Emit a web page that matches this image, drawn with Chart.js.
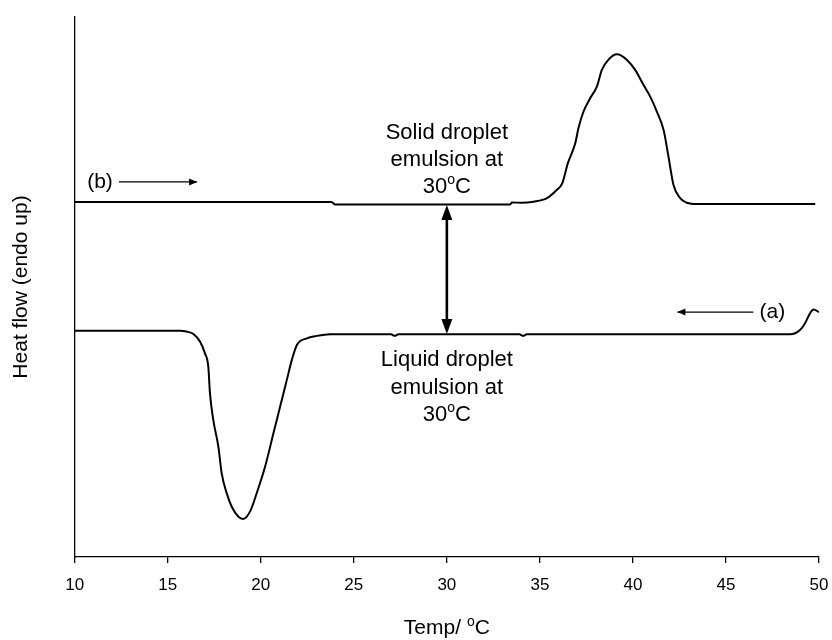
<!DOCTYPE html>
<html>
<head>
<meta charset="utf-8">
<script src="https://cdn.jsdelivr.net/npm/chart.js@4"></script>
<style>
  body { margin: 0; background: #fff; }
  #wrap { width: 832px; height: 640px; }
</style>
</head>
<body>
<div id="wrap"><canvas id="dsc"></canvas></div>
<script>
'use strict';

//***********Data***********
// (b) heating scan of the solid droplet emulsion
let tempB = [10, 23.8, 24.0, 33.4, 33.5, 34.0, 34.66, 35.38, 35.9, 36.2, 36.5, 36.9, 37.07, 37.34, 37.7,
  38.06, 38.33, 38.7, 39.14, 39.68, 40.12, 40.57, 40.93, 41.29, 41.65, 41.91, 42.18, 42.54, 42.9, 43.44, 49.8];
let flowB = [13.15, 13.15, 13.06, 13.06, 13.13, 13.12, 13.16, 13.29, 13.59, 13.84, 14.58, 15.32, 15.88, 16.49, 16.99,
  17.42, 18.04, 18.43, 18.62, 18.41, 18.04, 17.48, 17.05, 16.49, 15.81, 14.83, 13.78, 13.29, 13.12, 13.07, 13.07];

// (a) cooling scan of the liquid droplet emulsion
let tempA = [10, 15.66, 16.0, 16.38, 16.74, 17.0, 17.18, 17.27, 17.45, 17.72, 17.9, 18.17, 18.44, 18.8, 19.06,
  19.42, 19.78, 20.23, 20.68, 21.04, 21.4, 21.67, 21.94, 22.47, 23.01, 23.73, 27.0, 27.2, 27.4, 33.9, 34.1, 34.3,
  48.45, 48.98, 49.25, 49.52, 49.7, 50.0];
let flowA = [8.38, 8.38, 8.35, 8.26, 7.97, 7.54, 7.05, 6.06, 5.07, 4.09, 3.1, 2.36, 1.86, 1.49, 1.41,
  1.68, 2.36, 3.34, 4.58, 5.57, 6.56, 7.3, 7.85, 8.1, 8.19, 8.25, 8.25, 8.19, 8.25, 8.25, 8.19, 8.25,
  8.25, 8.41, 8.66, 9.03, 9.17, 9.07];

let xTicks = [10, 15, 20, 25, 30, 35, 40, 45, 50];

//***********Helpers***********
const FONT = '"Liberation Sans", Arial, sans-serif';

function toPoints(xs, ys) {
  let pts = [];
  for (let i = 0; i < xs.length; i++) {
    pts.push({ x: xs[i], y: ys[i] });
  }
  return pts;
}

// draws a line of text where parts flagged true are raised superscripts
function drawSup(ctx, parts, cx, cy, size) {
  let small = Math.round(size * 0.65);
  let widths = parts.map(p => {
    ctx.font = `${p[1] ? small : size}px ${FONT}`;
    return ctx.measureText(p[0]).width;
  });
  let total = widths.reduce((a, b) => a + b, 0);
  let x = cx - total / 2;
  ctx.textAlign = 'left';
  ctx.textBaseline = 'middle';
  parts.forEach((p, i) => {
    ctx.font = `${p[1] ? small : size}px ${FONT}`;
    ctx.fillText(p[0], x, p[1] ? cy - size * 0.3 : cy);
    x += widths[i];
  });
}

function arrowHead(ctx, x, y, dir, len, half) {
  // dir: unit vector the tip points along
  ctx.beginPath();
  ctx.moveTo(x, y);
  ctx.lineTo(x - dir[0] * len - dir[1] * half, y - dir[1] * len + dir[0] * half);
  ctx.lineTo(x - dir[0] * len + dir[1] * half, y - dir[1] * len - dir[0] * half);
  ctx.closePath();
  ctx.fill();
}

//***********Annotations***********
let runLabels = [
  { text: '(b)', x: 11.36, y: 13.89, from: 12.38, to: 16.58 },
  { text: '(a)', x: 47.49, y: 9.07, from: 46.47, to: 42.39 }
];
let blockLabels = [
  { x: 30, y: [15.7, 14.7, 13.7], lines: [[['Solid droplet', false]], [['emulsion at', false]], [['30', false], ['o', true], ['C', false]]] },
  { x: 30, y: [7.3, 6.26, 5.26], lines: [[['Liquid droplet', false]], [['emulsion at', false]], [['30', false], ['o', true], ['C', false]]] }
];
let gapArrow = { x: 30, top: 13.04, bottom: 8.26 };

const notesPlugin = {
  id: 'notes',
  afterDatasetsDraw(chart) {
    let ctx = chart.ctx;
    let xs = chart.scales.x;
    let ys = chart.scales.y;
    ctx.save();
    ctx.fillStyle = '#000';
    ctx.strokeStyle = '#000';

    // scan direction arrows
    runLabels.forEach(r => {
      let y = ys.getPixelForValue(r.y);
      let x0 = xs.getPixelForValue(r.from);
      let x1 = xs.getPixelForValue(r.to);
      ctx.lineWidth = 1.3;
      ctx.beginPath();
      ctx.moveTo(x0, y);
      ctx.lineTo(x1, y);
      ctx.stroke();
      arrowHead(ctx, x1, y, [x1 > x0 ? 1 : -1, 0], 8, 3.5);
      drawSup(ctx, [[r.text, false]], xs.getPixelForValue(r.x), y, 21);
    });

    // text blocks
    blockLabels.forEach(b => {
      let cx = xs.getPixelForValue(b.x);
      b.lines.forEach((parts, i) => {
        drawSup(ctx, parts, cx, ys.getPixelForValue(b.y[i]), 22);
      });
    });

    // double arrow between the two baselines
    let ax = xs.getPixelForValue(gapArrow.x);
    let yTop = ys.getPixelForValue(gapArrow.top);
    let yBot = ys.getPixelForValue(gapArrow.bottom);
    ctx.lineWidth = 2.6;
    ctx.beginPath();
    ctx.moveTo(ax, yTop + 10);
    ctx.lineTo(ax, yBot - 10);
    ctx.stroke();
    arrowHead(ctx, ax, yTop, [0, -1], 15, 5.5);
    arrowHead(ctx, ax, yBot, [0, 1], 15, 5.5);

    // x axis title
    let area = chart.chartArea;
    drawSup(ctx, [['Temp/ ', false], ['o', true], ['C', false]], (area.left + area.right) / 2, 628, 21);
    ctx.restore();
  }
};

//***********Chart***********
let ctx = document.getElementById('dsc').getContext('2d');

new Chart(ctx, {
  type: 'scatter',
  data: {
    datasets: [{
      label: '(b)',
      data: toPoints(tempB, flowB),
      showLine: true,
      borderColor: '#000',
      borderWidth: 2,
      pointRadius: 0,
      cubicInterpolationMode: 'monotone'
    },
    {
      label: '(a)',
      data: toPoints(tempA, flowA),
      showLine: true,
      borderColor: '#000',
      borderWidth: 2,
      pointRadius: 0,
      cubicInterpolationMode: 'monotone'
    }]
  },
  options: {
    responsive: true,
    maintainAspectRatio: false,
    animation: false,
    layout: { padding: { top: 17, right: 13, bottom: 0, left: 0 } },
    plugins: {
      legend: { display: false },
      tooltip: { enabled: false }
    },
    scales: {
      x: {
        type: 'linear',
        min: 10,
        max: 50,
        afterBuildTicks: scale => { scale.ticks = xTicks.map(v => ({ value: v })); },
        afterFit: scale => {
          scale.height = 83;
          scale.paddingLeft = 0;
          scale.paddingRight = 0;
        },
        border: { display: true, color: '#000', width: 1.3 },
        grid: { display: true, drawOnChartArea: false, color: '#000', lineWidth: 1.3, tickLength: 6 },
        ticks: { color: '#000', padding: 12, maxRotation: 0, font: { family: FONT, size: 17 } }
      },
      y: {
        type: 'linear',
        min: 0,
        max: 20,
        afterFit: scale => { scale.width = 74.7; },
        border: { display: true, color: '#000', width: 1.3 },
        grid: { display: false },
        ticks: { display: false },
        title: {
          display: true,
          text: 'Heat flow (endo up)',
          color: '#000',
          padding: { top: 9, bottom: 0 },
          font: { family: FONT, size: 21 }
        }
      }
    }
  },
  plugins: [notesPlugin]
});
</script>
</body>
</html>
